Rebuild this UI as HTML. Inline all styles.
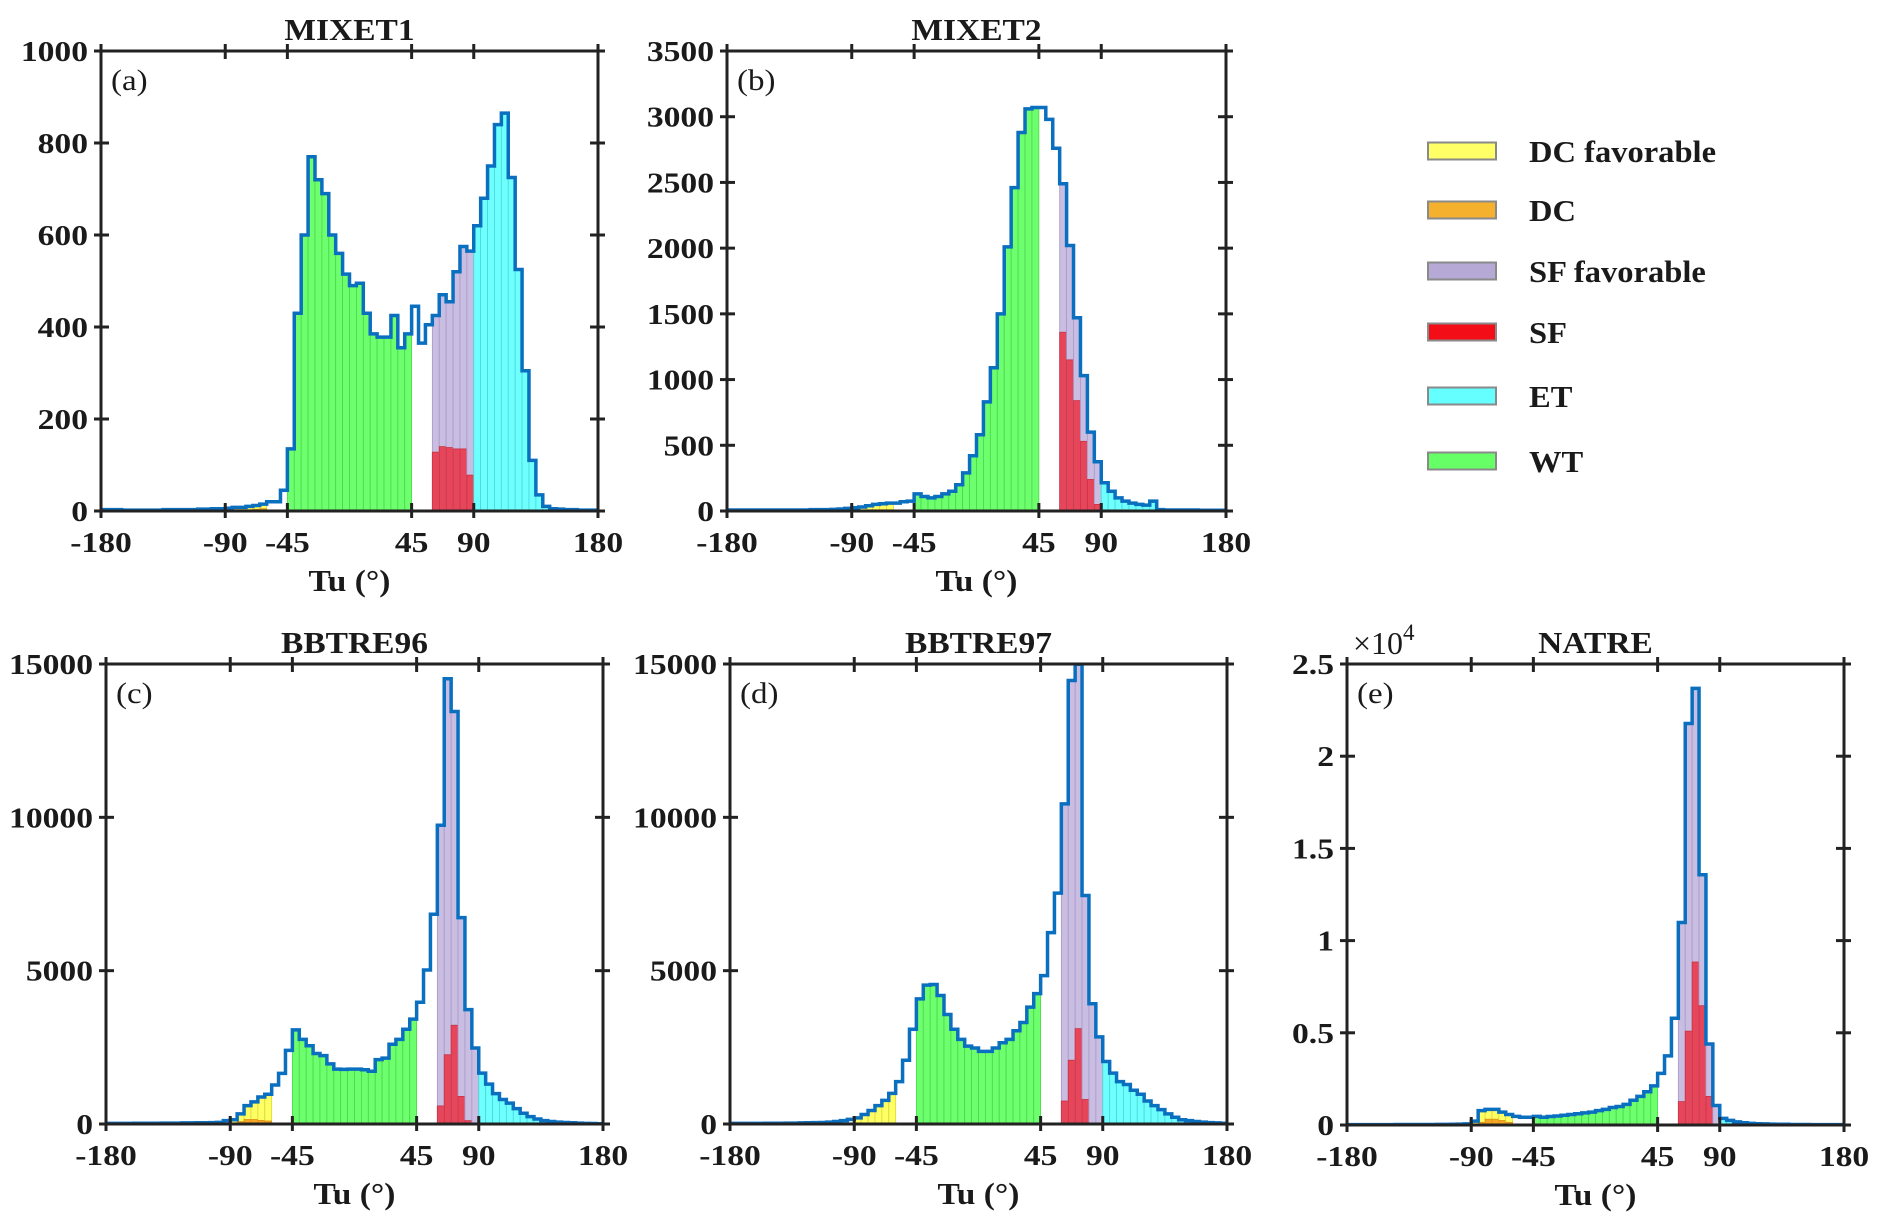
<!DOCTYPE html>
<html><head><meta charset="utf-8"><style>
html,body{margin:0;padding:0;background:#fff;}
svg{display:block;}
text{font-family:"Liberation Serif","Times New Roman",serif;fill:#1a1a1a;}
</style></head><body>
<svg id="fig" width="1883" height="1232" viewBox="0 0 1883 1232" xmlns="http://www.w3.org/2000/svg"></svg>
<script>
// ---- data (5-degree bins from -180 to 180) ----
const binEdges0 = -180;
const binWidth = 5;
const xTickValues = [-180, -90, -45, 45, 90, 180];
const xTickLabels = ["-180", "-90", "-45", "45", "90", "180"];

const mixet1Total = [3,3,3,2,2,2,2,2,2,3,3,3,3,3,4,4,5, 5, 6,8,8,10,12,15,20,20,45,
 135,430,600,770,720,690,600,560,515,490,495,430,385,378,378,425,355,385,
 445,365,405, 425,470,455,520,575,565,
 620,680,750,840,865,725,525,305,110,35,10, 5,4,3,3,2,2,2];
const mixet1Red = [128,140,138,135,135,78];
const mixet1Orange = [2,3,3,3,4,5];
const mixet1Ticks = [0,200,400,600,800,1000];
const mixet1TickLabels = ["0","200","400","600","800","1000"];

const mixet2Total = [8,8,8,8,8,8,8,8,8,8,8,8,10,10,10,12,15, 20, 25,30,40,50,55,60,60,70,75,
 130,110,100,110,130,150,200,290,420,580,830,1090,1500,2010,2460,2880,3060,3070,
 3070,2980,2760, 2490,2020,1470,1030,600,375,
 215,150,100,75,60,50,45,75,10,8,8, 8,8,8,6,6,6,6];
const mixet2Red = [1360,1150,840,530,240,50];
const mixet2Orange = [5,8,10,10,10,10];
const mixet2Ticks = [0,500,1000,1500,2000,2500,3000,3500];
const mixet2TickLabels = ["0","500","1000","1500","2000","2500","3000","3500"];

const bbtre96Total = [20,20,20,20,25,25,25,25,30,30,30,35,35,40,40,45,55, 110,
 140,330,600,720,880,970,1270,1650,2400,
 3070,2760,2550,2300,2230,1960,1790,1780,1790,1790,1770,1720,2100,2150,2600,2760,3090,3420,
 3970,5020,6840, 9740,14520,13450,6730,3730,2480,
 1660,1300,990,800,680,500,350,240,165,110,80, 60,50,40,30,20,15,10];
const bbtre96Red = [590,2260,3220,900,110,0];
const bbtre96Orange = [30,80,150,150,120,100];
const bbtreTicks = [0,5000,10000,15000];
const bbtreTickLabels = ["0","5000","10000","15000"];

const bbtre97Total = [20,20,20,20,20,25,25,25,30,30,35,40,45,50,60,80,110, 150,
 200,310,440,600,770,1000,1380,2080,3090,
 4080,4530,4550,4190,3570,3090,2760,2540,2480,2370,2370,2480,2650,2760,3040,3310,3810,4250,
 4840,6240,7530, 10440,14460,14990,7450,3920,2840,
 2040,1660,1380,1290,1100,970,750,600,470,330,220, 140,110,80,60,45,35,25];
const bbtre97Red = [750,2080,3110,800,0,0];
const bbtre97Orange = [20,30,40,40,40,40];

const natreTotal = [20,20,20,20,20,20,20,25,25,25,30,30,30,35,35,40,50, 60,
 210,780,850,850,700,570,470,420,420,
 470,420,460,490,530,570,610,660,700,780,850,950,1000,1120,1340,1550,1800,2120,
 2800,3750,5790, 10980,21770,23680,13570,4390,1060,
 360,250,170,120,90,70,60,50,40,40,30, 30,30,20,20,20,20,20];
const natreRed = [1270,5090,8840,6470,1550,0];
const natreOrange = [0,150,320,320,250,150];
const natreTicks = [0,5000,10000,15000,20000,25000];
const natreTickLabels = ["0","0.5","1","1.5","2","2.5"];

const legendLabels = ["DC favorable","DC","SF favorable","SF","ET","WT"];
const legendColors = ["#ffff66","#f5b02e","#b7a9d6","#f20d17","#66ffff","#66ff66"];

// ---- drawing ----
const NS = "http://www.w3.org/2000/svg";
const svg = document.getElementById("fig");
function mk(tag, attrs, parent) {
  const e = document.createElementNS(NS, tag);
  for (const k in attrs) e.setAttribute(k, attrs[k]);
  (parent || svg).appendChild(e);
  return e;
}
function txt(str, x, y, size, weight, anchor, sx, parent) {
  const t = mk("text", {transform: "translate(" + x + "," + y + ") scale(" + sx + ",1)",
    "font-size": size, "font-weight": weight, "text-anchor": anchor}, parent);
  t.textContent = str;
  return t;
}
const COL = {wt:"#66ff66", wtE:"#4cd64c", et:"#66ffff", etE:"#4cd6d6", sff:"#c6b9e0", sffE:"#a89bc8",
  sf:"#e6455a", sfE:"#c73344", dcf:"#ffff5c", dcfE:"#d6d640", dc:"#f5a623", dcE:"#d68a10"};

function category(c) {
  if (c > -90 && c < -60) return "dcf";
  if (c > -45 && c < 45) return "wt";
  if (c > 60 && c < 90) return "sff";
  if (c > 90) return "et";
  return null;
}

function drawPanel(p) {
  const g = mk("g", {});
  
  
  const L = p.L, R = p.R, T = p.T, B = p.B;
  const xs = v => L + (v + 180) / 360 * (R - L);
  const ys = v => B - v / p.ymax * (B - T);
  let sfIdx = 0, dcIdx = 0;
  for (let i = 0; i < p.total.length; i++) {
    const x0 = binEdges0 + i * binWidth, x1 = x0 + binWidth, c = x0 + binWidth / 2;
    const cat = category(c);
    if (!cat) continue;
    const r = mk("rect", {x: xs(x0), y: ys(p.total[i]), width: xs(x1) - xs(x0), height: B - ys(p.total[i]),
      fill: COL[cat], stroke: COL[cat + "E"], "stroke-width": 0.8, "fill-opacity": 0.95}, g);
    
    
    if (cat === "sff") {
      const v = p.red[sfIdx++];
      if (v > 0) {
        const rr = mk("rect", {x: xs(x0), y: ys(v), width: xs(x1) - xs(x0), height: B - ys(v),
          fill: COL.sf, stroke: COL.sfE, "stroke-width": 0.8}, g);
        
        
      }
    }
    if (cat === "dcf") {
      const v = p.orange[dcIdx++];
      if (v > 0) {
        const ro = mk("rect", {x: xs(x0), y: ys(v), width: xs(x1) - xs(x0), height: B - ys(v),
          fill: COL.dc, stroke: COL.dcE, "stroke-width": 0.6}, g);
        
        
      }
    }
  }
  // stairs outline
  let d = "M" + xs(-180) + "," + ys(p.total[0]);
  for (let i = 0; i < p.total.length; i++) {
    const x0 = binEdges0 + i * binWidth;
    if (i > 0) d += " L" + xs(x0) + "," + ys(p.total[i]);
    d += " L" + xs(x0 + binWidth) + "," + ys(p.total[i]);
  }
  const ol = mk("path", {d: d, fill: "none", stroke: "#0b6fc0", "stroke-width": 3.5, "stroke-linejoin": "miter"}, g);
  
  
  // frame
  const fr = mk("rect", {x: L, y: T, width: R - L, height: B - T, fill: "none", stroke: "#222", "stroke-width": 3}, g);
  
  
  // x ticks
  xTickValues.forEach((v, k) => {
    const x = xs(v);
    mk("line", {x1: x, y1: B + 7, x2: x, y2: B - 8, stroke: "#222", "stroke-width": 3}, g);
    mk("line", {x1: x, y1: T - 7, x2: x, y2: T + 8, stroke: "#222", "stroke-width": 3}, g);
    const t = txt(xTickLabels[k], x, B + 41, 28, "bold", "middle", 1.2, g);
    
    
  });
  p.ticks.forEach((v, k) => {
    const y = ys(v);
    mk("line", {x1: L - 7, y1: y, x2: L + 8, y2: y, stroke: "#222", "stroke-width": 3}, g);
    mk("line", {x1: R + 7, y1: y, x2: R - 8, y2: y, stroke: "#222", "stroke-width": 3}, g);
    const t = txt(p.tickLabels[k], L - 13, y + 10, 28, "bold", "end", 1.2, g);
    
    
  });
  const ti = txt(p.title, (L + R) / 2, T - 11, 31, "bold", "middle", 1.08, g);
  
  
  const xl = txt("Tu (°)", (L + R) / 2, B + 80, 31, "bold", "middle", 1.08, g);
  
  
  const pl = txt(p.letter, L + 10, T + 39, 30, "normal", "start", 1.1, g);
  
  
  if (p.exp) {
    const ex = mk("text", {x: L + 6, y: T - 10, "font-size": 32, "font-weight": "normal"}, g);
    
    
    ex.textContent = "×10";
    const sup = mk("tspan", {dy: -14, "font-size": 23}, ex);
    sup.textContent = "4";
  }
}

drawPanel({name:"panel-mixet1", title:"MIXET1", letter:"(a)", L:101, R:598, T:51, B:511, ymax:1000,
  total:mixet1Total, red:mixet1Red, orange:mixet1Orange, ticks:mixet1Ticks, tickLabels:mixet1TickLabels});
drawPanel({name:"panel-mixet2", title:"MIXET2", letter:"(b)", L:727, R:1226, T:51, B:511, ymax:3500,
  total:mixet2Total, red:mixet2Red, orange:mixet2Orange, ticks:mixet2Ticks, tickLabels:mixet2TickLabels});
drawPanel({name:"panel-bbtre96", title:"BBTRE96", letter:"(c)", L:106, R:603, T:664, B:1124, ymax:15000,
  total:bbtre96Total, red:bbtre96Red, orange:bbtre96Orange, ticks:bbtreTicks, tickLabels:bbtreTickLabels});
drawPanel({name:"panel-bbtre97", title:"BBTRE97", letter:"(d)", L:730, R:1227, T:664, B:1124, ymax:15000,
  total:bbtre97Total, red:bbtre97Red, orange:bbtre97Orange, ticks:bbtreTicks, tickLabels:bbtreTickLabels});
drawPanel({name:"panel-natre", title:"NATRE", letter:"(e)", L:1347, R:1844, T:664, B:1125, ymax:25000, exp:true,
  total:natreTotal, red:natreRed, orange:natreOrange, ticks:natreTicks, tickLabels:natreTickLabels});

// legend
const lg = mk("g", {});


const legendY = [151, 210, 271, 332, 396, 461];
legendLabels.forEach((lab, k) => {
  const r = mk("rect", {x: 1428, y: legendY[k] - 8.5, width: 68, height: 17, fill: legendColors[k], stroke: "#8a8a8a", "stroke-width": 2}, lg);
  
  
  const t = txt(lab, 1529, legendY[k] + 11, 31, "bold", "start", 1.05, lg);
  
  
});
</script>
</body></html>
